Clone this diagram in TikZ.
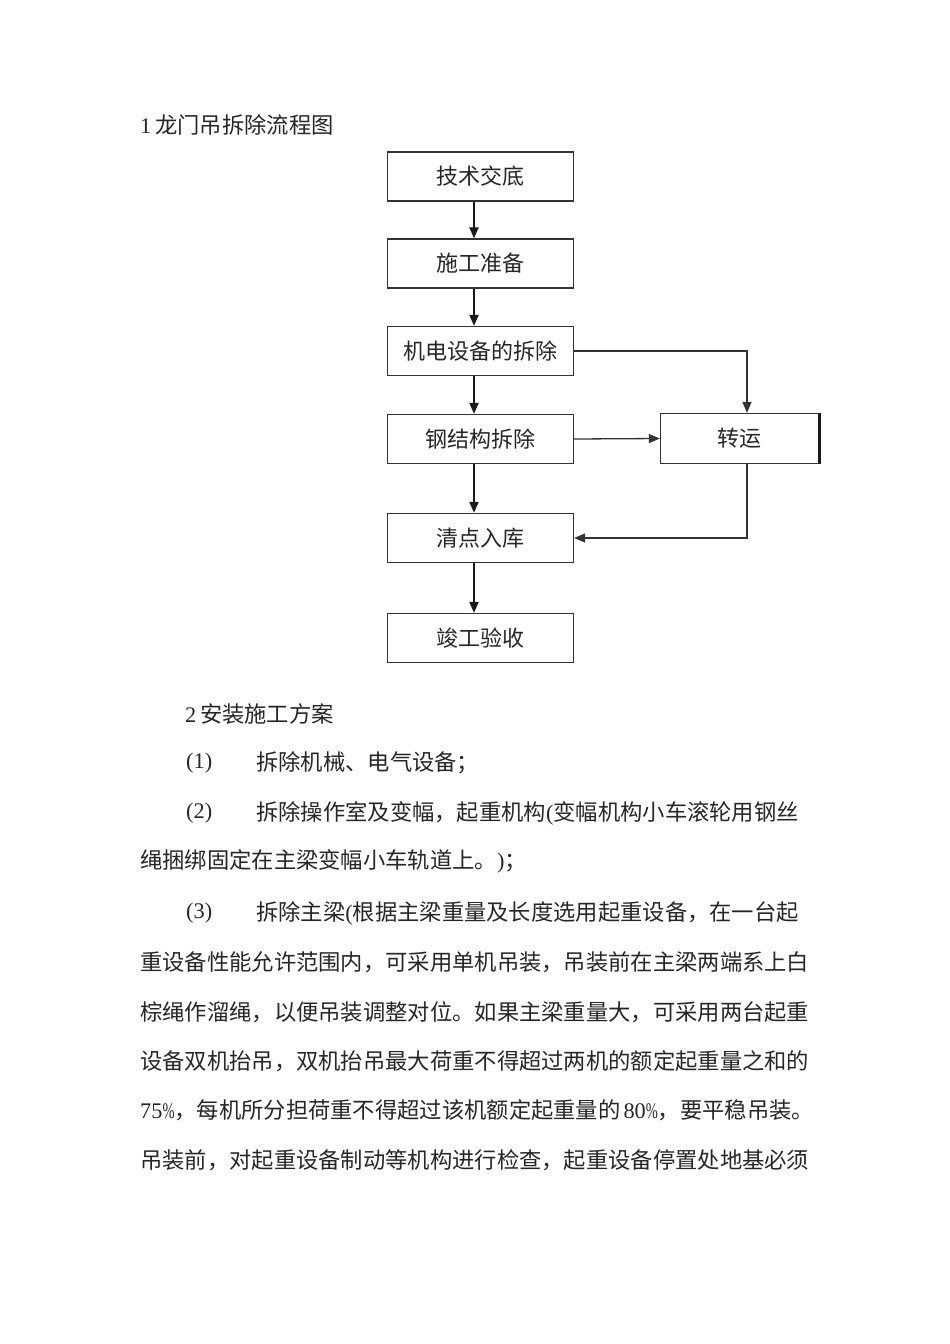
\documentclass[tikz,border=0pt]{standalone}
\usepackage{fontspec}
\setmainfont{Liberation Serif}
\newfontfamily\cjk{Noto Sans CJK SC}
\usetikzlibrary{arrows.meta}
\newcommand\zh[1]{{\cjk #1}}
\newcommand\pct{\makebox[12pt][l]{\scalebox{0.65}[1]{\%}}}
\begin{document}
\begin{tikzpicture}[x=1pt,y=-1pt,
  box/.style={draw=black!80, line width=1.3pt, minimum width=186pt, minimum height=49pt,
    inner sep=0pt, font=\fontsize{22}{26}\selectfont\cjk, text=black!85},
  arr/.style={-{Triangle[length=11pt,width=9pt]}, line width=2pt, draw=black!90},
  arrt/.style={-{Triangle[length=11pt,width=9pt]}, line width=1.3pt, draw=black!80},
  txt/.style={anchor=west, inner sep=0pt, font=\fontsize{22.3}{26}\selectfont, text=black!85}]
\useasboundingbox (0,0) rectangle (950,1344);
\fill[white] (0,0) rectangle (950,1344);

% title
\node[txt] (title) at (140,125) {1\hspace{4pt}\zh{龙门吊拆除流程图}};

% flowchart boxes
\node[box] (b1) at (480.5,176.5) {技术交底};
\node[box] (b2) at (480.5,263.5) {施工准备};
\node[box] (b3) at (480.5,351) {机电设备的拆除};
\node[box] (b4) at (480.5,439) {钢结构拆除};
\node[box] (b5) at (480.5,538) {清点入库};
\node[box] (b6) at (480.5,638) {竣工验收};
\node[box, minimum width=158pt, minimum height=50pt] (zy) at (739.5,438.5) {转运};
\draw[line width=3.2pt, black!90] (zy.north east) -- (zy.south east);

\coordinate (ax) at (474,0);
\coordinate (vx) at (747,0);

% connectors
\draw[arr] (b1.south -| ax) -- (b2.north -| ax);
\draw[arr] (b2.south -| ax) -- (b3.north -| ax);
\draw[arr] (b3.south -| ax) -- (b4.north -| ax);
\draw[arr] (b4.south -| ax) -- (b5.north -| ax);
\draw[arr] (b5.south -| ax) -- (b6.north -| ax);
\draw[arrt] (b3.east) -| (zy.north -| vx);
\draw[arrt] (b4.east) -- (zy.west);
\draw[arrt] (zy.south -| vx) |- (b5.east);

% body text
\node[txt] (l1) at (185,714) {2\,\zh{安装施工方案}};
\node[txt] (l2a) at (186,763) {(1)};
\node[txt] (l2b) at (256,763) {\zh{拆除机械、电气设备；}};
\node[txt] (l3a) at (186,813) {(2)};
\node[txt] (l3b) at (256,813) {\zh{拆除操作室及变幅，起重机构}(\zh{变幅机构小车滚轮用钢丝}};
\node[txt] (l4) at (140,861) {\zh{绳捆绑固定在主梁变幅小车轨道上。})\zh{；}};
\node[txt] (l5a) at (186,913) {(3)};
\node[txt] (l5b) at (256,913) {\zh{拆除主梁}(\zh{根据主梁重量及长度选用起重设备，在一台起}};
\node[txt] (l6) at (140,962) {\zh{重设备性能允许范围内，可采用单机吊装，吊装前在主梁两端系上白}};
\node[txt] (l7) at (140,1012) {\zh{棕绳作溜绳，以便吊装调整对位。如果主梁重量大，可采用两台起重}};
\node[txt] (l8) at (140,1061) {\zh{设备双机抬吊，双机抬吊最大荷重不得超过两机的额定起重量之和的}};
\node[txt] (l9) at (140,1110) {75\pct\zh{，每机所分担荷重不得超过该机额定起重量的}\hspace{3pt}80\pct\zh{，要平稳吊装。}};
\node[txt] (l10) at (140,1160) {\zh{吊装前，对起重设备制动等机构进行检查，起重设备停置处地基必须}};
\end{tikzpicture}
\end{document}
